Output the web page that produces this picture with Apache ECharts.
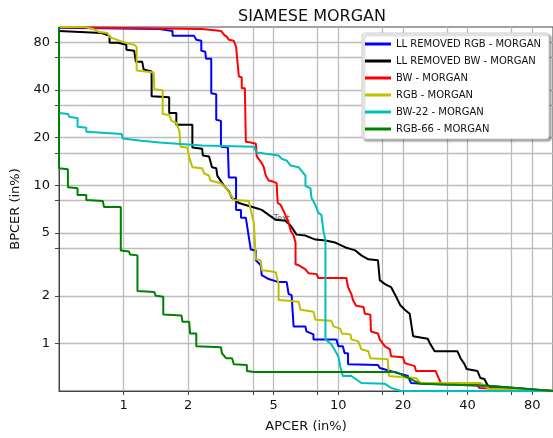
<!DOCTYPE html>
<html>
<head>
<meta charset="utf-8">
<title>SIAMESE MORGAN</title>
<script src="https://cdn.jsdelivr.net/npm/echarts@6.0.0/dist/echarts.min.js"></script>
<style>
  html, body { margin: 0; padding: 0; background: #fff; }
  #chart { width: 553px; height: 438px; }
</style>
</head>
<body>
<div id="chart"></div>
<script>
// DET curves, values in % : [APCER, BPCER]
const llRemovedRgb = [
  [0.5, 99], [1.47, 97.2], [1.69, 94.4], [1.69, 87.9], [2.13, 87.9], [2.18, 83.0], [2.3, 81.8], [2.3, 70.8],
  [2.4, 69.8], [2.42, 63.1], [2.56, 63.1], [2.56, 38.1], [2.7, 37.6], [2.7, 25.9], [2.84, 25.5], [2.84, 17.5],
  [3.06, 17.3], [3.09, 11.2], [3.34, 11.2], [3.34, 6.98], [3.52, 6.98], [3.52, 6.22], [3.71, 6.22], [3.91, 3.92],
  [4.13, 3.87], [4.13, 3.35], [4.35, 3.12], [4.4, 2.7], [4.74, 2.55], [5.27, 2.44], [5.75, 2.44], [5.87, 2.05],
  [6.06, 2.02], [6.19, 1.28], [7.03, 1.28], [7.1, 1.19], [7.66, 1.14], [7.66, 1.06], [9.8, 1.06], [10, 0.958],
  [10.5, 0.958], [10.7, 0.866], [11.1, 0.866], [11.1, 0.739], [15.3, 0.729], [15.6, 0.698], [21.1, 0.622],
  [21.8, 0.562], [24.8, 0.555], [49.5, 0.54], [100, 0.5]
]
const llRemovedBw = [
  [0.5, 94.4], [0.79, 91.7], [0.8, 89.1], [0.86, 87.9], [0.86, 79.4], [0.94, 79.4], [1.03, 77.2], [1.03, 71.8],
  [1.12, 70.8], [1.14, 60.4], [1.22, 60.4], [1.24, 53.8], [1.35, 52.3], [1.35, 36.5], [1.63, 36.0], [1.63, 28.6],
  [1.76, 28.6], [1.76, 24.1], [2.09, 24.1], [2.09, 17.3], [2.32, 17.0], [2.34, 15.4], [2.5, 15.2], [2.58, 13.0],
  [2.7, 12.8], [2.73, 11.5], [2.94, 9.86], [3.09, 9.17], [3.2, 8.29], [3.34, 8.06], [3.44, 7.72], [3.83, 7.39],
  [4.13, 7.18], [4.4, 6.98], [4.74, 6.49], [5.11, 6.04], [5.68, 5.96], [6.0, 5.54], [6.39, 4.87], [7.03, 4.8],
  [7.83, 4.53], [8.71, 4.47], [9.68, 4.34], [10.8, 4.04], [12.0, 3.87], [12.8, 3.6], [13.8, 3.4], [15.3, 3.35],
  [15.6, 2.51], [16.5, 2.37], [17.6, 2.27], [18.6, 1.97], [19.4, 1.75], [20.4, 1.63], [21.5, 1.54], [22.3, 1.11],
  [26.1, 1.07], [26.7, 1.0], [28.1, 0.891], [35.9, 0.891], [37.1, 0.806], [38.7, 0.739], [39.6, 0.688],
  [44.5, 0.668], [45.9, 0.604], [47.9, 0.596], [49.5, 0.546], [51.1, 0.523], [100, 0.5]
]
const bw = [
  [0.5, 99.5], [2.32, 97.2], [2.58, 95.8], [2.84, 94.4], [2.94, 89.1], [3.03, 86.6], [3.09, 83.0], [3.26, 81.8],
  [3.34, 75.0], [3.41, 75.0], [3.44, 48.7], [3.55, 48.0], [3.55, 41.0], [3.67, 41.0], [3.71, 18.8], [3.91, 18.6],
  [4.13, 18.3], [4.17, 15.2], [4.35, 14.1], [4.49, 13.1], [4.59, 11.5], [4.74, 10.7], [4.9, 10.6], [5.16, 10.3],
  [5.22, 7.72], [5.39, 7.5], [5.56, 6.88], [5.68, 6.41], [5.87, 5.79], [6.0, 5.16], [6.19, 4.8], [6.32, 4.34],
  [6.32, 3.16], [6.53, 3.12], [7.03, 2.94], [7.26, 2.78], [7.91, 2.74], [8.08, 2.59], [10.9, 2.59], [11.1, 2.27],
  [11.5, 2.05], [11.7, 1.88], [12.1, 1.73], [13.1, 1.7], [13.3, 1.54], [14.1, 1.52], [14.2, 1.19], [15.3, 1.155],
  [15.6, 1.06], [16.5, 0.958], [17.4, 0.917], [17.6, 0.83], [20.0, 0.818], [20.4, 0.75], [22.7, 0.718],
  [23.0, 0.668], [28.4, 0.668], [30.0, 0.562], [44.5, 0.546], [45.3, 0.523], [100, 0.5]
]
const rgb = [
  [0.5, 100], [0.66, 100], [0.72, 97.2], [0.77, 93.0], [0.84, 91.7], [0.86, 86.6], [0.88, 85.3], [1.02, 79.4],
  [1.12, 77.2], [1.15, 75.0], [1.15, 53.1], [1.26, 52.3], [1.38, 51.6], [1.39, 40.4], [1.52, 39.8], [1.52, 28.2],
  [1.63, 27.8], [1.67, 25.5], [1.76, 24.8], [1.82, 21.8], [1.84, 17.5], [1.98, 17.3], [2.02, 15.0], [2.09, 13.0],
  [2.32, 12.8], [2.37, 11.9], [2.5, 11.5], [2.53, 10.7], [2.84, 10.3], [3.0, 9.58], [3.16, 8.66], [3.26, 8.06],
  [3.83, 7.94], [3.87, 7.39], [4.04, 5.79], [4.13, 3.4], [4.35, 3.35], [4.4, 2.9], [4.84, 2.86], [5.11, 2.82],
  [5.27, 2.37], [5.27, 1.88], [5.87, 1.86], [6.53, 1.83], [6.67, 1.63], [7.66, 1.585], [7.83, 1.41], [9.28, 1.39],
  [9.5, 1.28], [10.2, 1.24], [10.4, 1.155], [11.4, 1.14], [11.5, 1.06], [12.4, 1.03], [12.8, 0.917], [13.8, 0.891],
  [14.1, 0.806], [17.0, 0.794], [17.2, 0.622], [19.4, 0.613], [23.0, 0.604], [24.2, 0.562], [45.9, 0.562],
  [50.5, 0.516], [100, 0.5]
]
const bw22 = [
  [0.5, 100], [0.5, 28.6], [0.55, 28.2], [0.56, 27.0], [0.61, 26.6], [0.61, 23.4], [0.67, 23.1], [0.67, 21.8],
  [0.98, 21.1], [0.99, 19.7], [1.21, 19.1], [1.47, 18.6], [2.32, 17.8], [4.04, 17.5], [4.17, 16.1], [4.59, 15.8],
  [5.27, 15.4], [5.45, 14.7], [5.75, 14.3], [6.0, 13.3], [6.53, 13.0], [6.88, 11.9], [7.03, 11.5], [7.03, 9.86],
  [7.42, 9.58], [7.5, 8.29], [7.83, 7.5], [7.91, 7.18], [8.08, 6.68], [8.34, 6.49], [8.52, 5.16], [8.71, 4.47],
  [8.71, 1.06], [9.28, 0.986], [10.0, 0.83], [10.2, 0.718], [10.5, 0.622], [11.5, 0.622], [12.8, 0.562],
  [16.5, 0.555], [17.6, 0.523], [19.6, 0.5], [100, 0.5]
]
const rgb66 = [
  [0.5, 100], [0.5, 12.8], [0.55, 12.6], [0.55, 9.72], [0.61, 9.58], [0.61, 8.66], [0.67, 8.66], [0.67, 8.06],
  [0.8, 7.94], [0.81, 7.29], [0.97, 7.29], [0.97, 3.87], [1.06, 3.81], [1.07, 3.65], [1.16, 3.6], [1.16, 2.14],
  [1.39, 2.11], [1.41, 2.0], [1.53, 1.97], [1.53, 1.52], [1.86, 1.5], [1.88, 1.37], [2.02, 1.37], [2.04, 1.155],
  [2.18, 1.155], [2.18, 0.958], [2.84, 0.944], [2.87, 0.866], [3.0, 0.806], [3.2, 0.806], [3.26, 0.739],
  [3.75, 0.729], [3.75, 0.668], [4.04, 0.659], [18.6, 0.659], [24.2, 0.555], [49.5, 0.539], [100, 0.5]
]

const seriesNames = ['LL REMOVED RGB - MORGAN', 'LL REMOVED BW - MORGAN', 'BW - MORGAN', 'RGB - MORGAN', 'BW-22 - MORGAN', 'RGB-66 - MORGAN']
const seriesData = [llRemovedRgb, llRemovedBw, bw, rgb, bw22, rgb66]
const seriesColors = ['#0000ff', '#000000', '#ff0000', '#bfbf00', '#00bfbf', '#008000']

// labelled ticks, and the extra unlabelled grid positions
const labelValues = [1, 2, 5, 10, 20, 40, 80]
const extraGridValues = [4, 8, 16, 32, 64]
const notePoint = [[5.45, 6.1]]

const font = 'DejaVu Sans'
const gridColor = '#bcbcbc'
const axisColor = '#444'
const chart = echarts.init(document.getElementById('chart'), null, { renderer: 'canvas' })

const axisCommon = {
  type: 'log',
  logBase: 10,
  min: 0.5,
  max: 100,
  nameLocation: 'middle',
  nameTextStyle: { fontSize: 13, color: '#111', fontFamily: font },
  axisLine: { show: true, lineStyle: { color: axisColor, width: 1 } },
  axisTick: { show: true, inside: false, length: 4, customValues: labelValues, lineStyle: { color: axisColor } },
  axisLabel: { customValues: labelValues, fontSize: 13, color: '#111', fontFamily: font, formatter: v => String(v) },
  splitLine: { show: true, lineStyle: { color: gridColor, width: 1.3 } },
  minorTick: { show: false },
  minorSplitLine: { show: false },
}

// second pair of axes on the same grid: only grid lines + ticks at 4, 8, 16, 32, 64 (labels invisible)
const extraAxis = {
  type: 'log',
  logBase: 10,
  min: 0.5,
  max: 100,
  gridIndex: 0,
  axisLine: { show: false },
  axisTick: { show: true, inside: false, length: 4, customValues: extraGridValues, lineStyle: { color: axisColor } },
  axisLabel: { customValues: extraGridValues, fontSize: 13, color: 'rgba(255,255,255,0)', formatter: v => String(v) },
  splitLine: { show: true, lineStyle: { color: gridColor, width: 1.3 } },
  minorTick: { show: false },
  minorSplitLine: { show: false },
}

const series = seriesNames.map((name, i) => ({
  name: name,
  type: 'line',
  xAxisIndex: 0,
  yAxisIndex: 0,
  data: seriesData[i],
  showSymbol: false,
  symbol: 'none',
  color: seriesColors[i],
  lineStyle: { width: 2, color: seriesColors[i] },
  animation: false,
  clip: true,
}))

series.push({
  name: 'note',
  type: 'scatter',
  xAxisIndex: 0,
  yAxisIndex: 0,
  data: notePoint,
  symbolSize: 0,
  silent: true,
  label: { show: true, position: 'inside', formatter: 'Text', fontSize: 8, color: '#333', fontFamily: font },
})

const option = {
  animation: false,
  title: {
    text: 'SIAMESE MORGAN',
    left: 307,
    textAlign: 'center',
    top: 4,
    textStyle: { fontSize: 16, fontWeight: 'normal', color: '#111', fontFamily: font },
  },
  grid: {
    left: 59,
    right: -3,
    top: 27,
    bottom: 44,
    show: true,
    borderColor: axisColor,
    borderWidth: 1,
    containLabel: false,
  },
  legend: {
    data: seriesNames,
    orient: 'vertical',
    left: 362,
    top: 33,
    icon: 'rect',
    itemWidth: 26,
    itemHeight: 3,
    itemGap: 5,
    padding: [5, 8, 4, 3],
    backgroundColor: '#fff',
    borderColor: '#cccccc',
    borderWidth: 1,
    borderRadius: 3,
    shadowColor: 'rgba(0,0,0,0.35)',
    shadowBlur: 2,
    shadowOffsetX: 2,
    shadowOffsetY: 2,
    textStyle: { fontSize: 10, lineHeight: 12, color: '#111', fontFamily: font },
  },
  xAxis: [
    Object.assign({}, axisCommon, {
      position: 'bottom',
      name: 'APCER (in%)',
      nameGap: 29,
      axisLabel: Object.assign({}, axisCommon.axisLabel, { margin: 8 }),
    }),
    Object.assign({}, extraAxis, { position: 'bottom', offset: 0 }),
  ],
  yAxis: [
    Object.assign({}, axisCommon, {
      position: 'left',
      name: 'BPCER (in%)',
      nameGap: 32,
      axisLabel: Object.assign({}, axisCommon.axisLabel, { margin: 9 }),
    }),
    Object.assign({}, extraAxis, { position: 'left', offset: 0 }),
  ],
  series: series,
}

chart.setOption(option)
</script>
</body>
</html>
